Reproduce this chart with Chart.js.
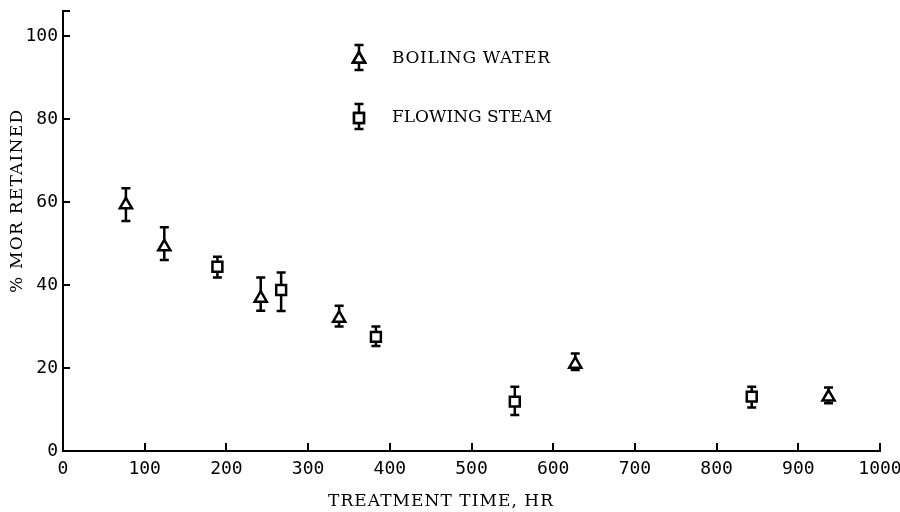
<!DOCTYPE html>
<html>
<head>
<meta charset="utf-8">
<script src="https://cdn.jsdelivr.net/npm/chart.js@4.4.1/dist/chart.umd.min.js"></script>
<style>
  html, body { margin: 0; padding: 0; background: #fff; }
  #wrap { width: 900px; height: 512px; }
</style>
</head>
<body>
<div id="wrap"><canvas id="c"></canvas></div>
<script>
// treatment time (hr) and % MOR retained
const boilX  = [77, 124, 242, 338, 627, 937];
const boilY  = [59.3, 49.2, 36.8, 32.0, 20.9, 13.0];
const boilLo = [55.4, 46.0, 33.8, 30.0, 19.5, 11.5];
const boilHi = [63.3, 53.9, 41.8, 35.0, 23.5, 15.3];

const steamX  = [189, 267, 383, 553, 843];
const steamY  = [44.4, 38.8, 27.5, 11.9, 13.1];
const steamLo = [41.8, 33.7, 25.3, 8.7, 10.5];
const steamHi = [46.8, 43.0, 30.0, 15.5, 15.5];

const xTicks = [0, 100, 200, 300, 400, 500, 600, 700, 800, 900, 1000];
const yTicks = [0, 20, 40, 60, 80, 100];
const yTop = 106;

const seriesNames = ['BOILING WATER', 'FLOWING STEAM'];

const SERIF = '"DejaVu Serif", "Liberation Serif", serif';
const TICKF = '"DejaVu Sans Mono", monospace';

const toPts = (xs, ys) => xs.map((x, i) => ({ x, y: ys[i] }));

// typewriter look: spread the letters so the line takes a given width
function typeText(ctx, text, x, y, width) {
    ctx.letterSpacing = '0px';
    const w = ctx.measureText(text).width;
    const sp = Math.max(0, (width - w) / (text.length - 1));
    ctx.letterSpacing = sp.toFixed(2) + 'px';
    ctx.fillText(text, x, y);
    ctx.letterSpacing = '0px';
}

// ── error bars, drawn under the markers ─────────────────────
const errorBars = {
    id: 'errorBars',
    beforeDatasetsDraw(chart) {
        const ctx = chart.ctx;
        const ys = chart.scales.y;
        ctx.save();
        ctx.strokeStyle = '#000';
        ctx.lineWidth = 2.5;
        chart.data.datasets.forEach((ds, di) => {
            const meta = chart.getDatasetMeta(di);
            meta.data.forEach((pt, i) => {
                const top = ys.getPixelForValue(ds.errHi[i]);
                const bot = ys.getPixelForValue(ds.errLo[i]);
                ctx.beginPath();
                ctx.moveTo(pt.x, top); ctx.lineTo(pt.x, bot);
                ctx.moveTo(pt.x - 4.5, top); ctx.lineTo(pt.x + 4.5, top);
                ctx.moveTo(pt.x - 4.5, bot); ctx.lineTo(pt.x + 4.5, bot);
                ctx.stroke();
            });
        });
        ctx.restore();
    },
};

// ── legend and axis titles ──────────────────────────────────
const annot = {
    id: 'annot',
    afterDraw(chart) {
        const ctx = chart.ctx;
        ctx.save();
        ctx.fillStyle = '#000';
        ctx.font = '17px ' + SERIF;
        ctx.textBaseline = 'middle';

        chart.data.datasets.forEach((ds, di) => {
            const lx = 359, ly = 59 + di * 59;
            ctx.strokeStyle = '#000';
            ctx.lineWidth = 2.5;
            ctx.beginPath();
            ctx.moveTo(lx, ly - 14); ctx.lineTo(lx, ly + 11);
            ctx.moveTo(lx - 4.5, ly - 14); ctx.lineTo(lx + 4.5, ly - 14);
            ctx.moveTo(lx - 4.5, ly + 11); ctx.lineTo(lx + 4.5, ly + 11);
            ctx.stroke();
            ctx.fillStyle = '#fff';
            Chart.helpers.drawPoint(ctx, {
                pointStyle: ds.pointStyle, radius: ds.pointRadius,
                borderWidth: ds.borderWidth, rotation: 0,
            }, lx, ly);
            ctx.fill();
            ctx.stroke();
            ctx.fillStyle = '#000';
            ctx.textAlign = 'left';
            typeText(ctx, seriesNames[di], 392, ly, 158);
        });

        ctx.textAlign = 'left';
        typeText(ctx, 'TREATMENT TIME, HR', 328, 502, 225);
        ctx.translate(18, 293);
        ctx.rotate(-Math.PI / 2);
        typeText(ctx, '% MOR RETAINED', 0, 0, 183);
        ctx.restore();
    },
};

new Chart(document.getElementById('c'), {
    type: 'scatter',
    data: {
        datasets: [
            {
                label: seriesNames[0],
                data: toPts(boilX, boilY),
                errLo: boilLo, errHi: boilHi,
                pointStyle: 'triangle', pointRadius: 7, pointHoverRadius: 7,
                borderColor: '#000', backgroundColor: '#fff', borderWidth: 2.5,
            },
            {
                label: seriesNames[1],
                data: toPts(steamX, steamY),
                errLo: steamLo, errHi: steamHi,
                pointStyle: 'rect', pointRadius: 7, pointHoverRadius: 7,
                borderColor: '#000', backgroundColor: '#fff', borderWidth: 2.5,
            },
        ],
    },
    options: {
        responsive: true, maintainAspectRatio: false, animation: false,
        layout: { padding: { top: 11, right: 20, left: 0, bottom: 0 } },
        plugins: { legend: { display: false }, tooltip: { enabled: false } },
        scales: {
            x: {
                type: 'linear', min: 0, max: 1000,
                afterBuildTicks: s => { s.ticks = xTicks.map(v => ({ value: v })); },
                afterFit: s => { s.height = 61; s.paddingLeft = 0; s.paddingRight = 0; },
                border: { color: '#000', width: 2 },
                grid: { drawOnChartArea: false, tickLength: -8, color: '#000', lineWidth: 2 },
                ticks: {
                    color: '#000', padding: 16, maxRotation: 0, font: { family: TICKF, size: 18 },
                    callback: v => String(v),
                },
            },
            y: {
                type: 'linear', min: 0, max: yTop,
                afterBuildTicks: s => { s.ticks = yTicks.concat([yTop]).map(v => ({ value: v })); },
                afterFit: s => { s.width = 63; s.paddingTop = 0; s.paddingBottom = 0; },
                border: { color: '#000', width: 2 },
                grid: { drawOnChartArea: false, tickLength: -7, color: '#000', lineWidth: 2 },
                ticks: {
                    color: '#000', padding: 12, font: { family: TICKF, size: 18 },
                    callback: v => (yTicks.includes(v) ? String(v) : ''),
                },
            },
        },
    },
    plugins: [errorBars, annot],
});
</script>
</body>
</html>
